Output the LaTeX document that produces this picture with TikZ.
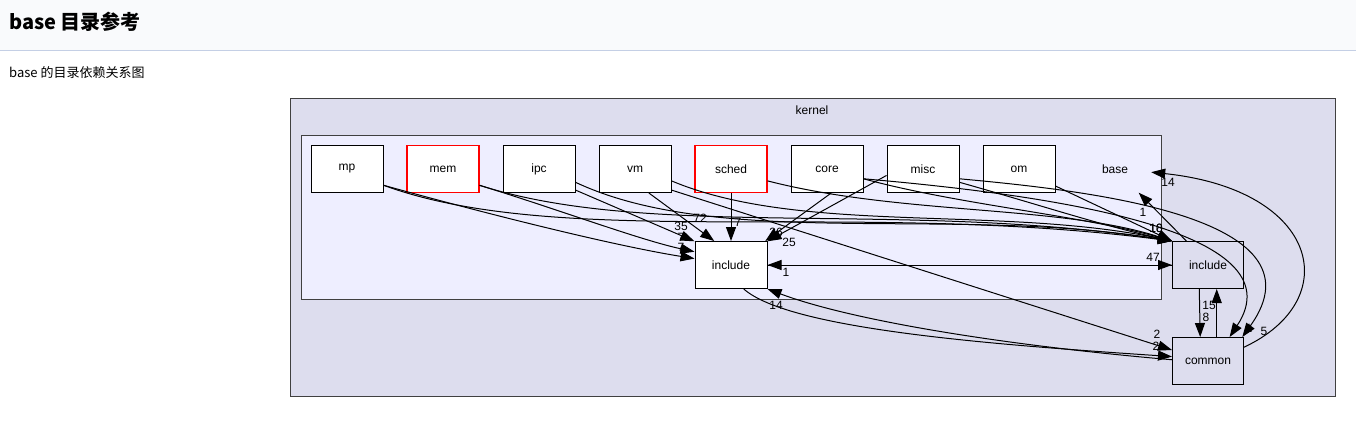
\documentclass[tikz,border=0pt]{standalone}
\usepackage{fontspec}
\setmainfont{Liberation Sans}
\newfontfamily\cjk{Noto Sans CJK SC}
\usepackage{tikz}
\usetikzlibrary{arrows.meta,positioning}

\definecolor{kernelbg}{HTML}{DDDDEE}
\definecolor{basebg}{HTML}{EEEEFF}
\definecolor{headbg}{HTML}{F9FAFC}
\definecolor{headline}{HTML}{C4CFE5}

\begin{document}
\begin{tikzpicture}[x=1pt,y=-1pt,font=\fontsize{12}{14}\selectfont,
  dir/.style={draw,line width=1pt,fill=white,minimum width=72pt,minimum height=47pt,inner sep=0pt},
  reddir/.style={dir,draw=red,line width=1.2pt},
  outdir/.style={dir,fill=kernelbg,minimum width=71pt},
  dep/.style={-{Triangle[length=14pt,width=10pt]},line width=1pt},
  num/.style={inner sep=0pt}]
\useasboundingbox (0,0) rectangle (1356,424);
% page header
\fill[headbg] (0,0) rectangle (1356,50);
\draw[headline] (0,50) -- (1356,50);
\node[anchor=west,inner sep=0pt,font=\cjk\bfseries\fontsize{20}{24}\selectfont] (title) at (9,22) {base 目录参考};
\node[anchor=west,inner sep=0pt,font=\cjk\fontsize{13}{15}\selectfont] (caption) at (9,73) {base 的目录依赖关系图};

% clusters
\draw[black!75,line width=1pt,fill=kernelbg] (290,98) rectangle (1335,396);
\node (kernel) at (812,110) {kernel};
\draw[black!75,line width=1pt,fill=basebg] (301,135) rectangle (1161,299);
\node[minimum width=72pt,minimum height=47pt] (base) at (1115,169) {base};

% directories of base
\node[dir] (mp) at (347,169) {mp};
\node[reddir] (mem) at (443,169) {mem};
\node[dir] (ipc) at (539,169) {ipc};
\node[dir] (vm) at (635,169) {vm};
\node[reddir] (sched) at (731,169) {sched};
\node[dir] (core) at (827,169) {core};
\node[dir] (misc) at (923,169) {misc};
\node[dir] (om) at (1019,169) {om};
\node[dir] (binc) at (731,265) {include};
% directories of kernel
\node[outdir] (kinc) at (1208,265) {include};
\node[outdir] (common) at (1208,361) {common};

% dependencies
\draw[dep] (mp.-24) .. controls (480,212) and (610,245) .. (binc.170);
\draw[dep] (mp.-24) .. controls (560,250) and (850,200) .. (kinc.north west);
\draw[dep] (mem.-24) .. controls (560,210) and (640,240) .. (binc.160);
\draw[dep] (mem.-24) .. controls (650,240) and (900,200) .. (kinc.north west);
\draw[dep] (ipc.-30) -- (binc.147);
\draw[dep] (ipc.-20) .. controls (720,250) and (950,205) .. (kinc.north west);
\draw[dep] (vm.-60) -- (binc.125);
\draw[dep] (vm.-18) .. controls (800,235) and (1000,205) .. (kinc.north west);
\draw[dep] (vm.-30) -- (common.163);
\draw[dep] (sched) -- (binc);
\draw[dep] (sched.-18) .. controls (900,215) and (1060,205) .. (kinc.north west);
\draw[dep] (core.-80) -- (binc.35);
\draw[dep] (core.-15) .. controls (960,205) and (1080,215) .. (kinc.north west);
\draw[dep] (core.-15) .. controls (1050,195) and (1300,230) .. (common.48);
\draw[dep] (misc.-170) -- (binc.33);
\draw[dep] (misc.-20) .. controls (1040,205) and (1100,225) .. (kinc.north west);
\draw[dep] (misc.-15) .. controls (1080,190) and (1330,215) .. (common.35);
\draw[dep] (om.-25) -- (kinc.north west);
\draw[dep] (kinc.132) -- (base.-45);
\draw[dep] (binc) -- (kinc);
\draw[dep] (kinc) -- (binc);
\draw[dep] (kinc.-110) -- (common.108);
\draw[dep] (common.70) -- (kinc.-70);
\draw[dep] (common.21) .. controls (1345,300) and (1320,190) .. (base.-5);
\draw[dep] (common.178) .. controls (1000,345) and (850,320) .. (binc.south east);
\draw[dep] (binc.-62) .. controls (790,330) and (1000,345) .. (common.173);

% counts
\node[num] (n1) at (681,247) {7};
\node[num] (n2) at (681,237) {7};
\node[num] (n3) at (681,226) {35};
\node[num] (n4) at (700,218) {72};
\node[num] (n5) at (738,222) {7};
\node[num] (n6) at (776,232) {36};
\node[num] (n7) at (789,242) {25};
\node[num] (n8) at (786,272) {1};
\node[num] (n9) at (776,305) {14};
\node[num] (n10) at (1156,228) {10};
\node[num] (n11) at (1156,228) {18};
\node[num] (n12) at (1153,257) {47};
\node[num] (n13) at (1143,212) {1};
\node[num] (n14) at (1168,182) {14};
\node[num] (n15) at (1209,305) {15};
\node[num] (n16) at (1206,317) {8};
\node[num] (n17) at (1249,328) {1};
\node[num] (n18) at (1264,331) {5};
\node[num] (n19) at (1157,334) {2};
\node[num] (n20) at (1156,346) {2};
\end{tikzpicture}
\end{document}
